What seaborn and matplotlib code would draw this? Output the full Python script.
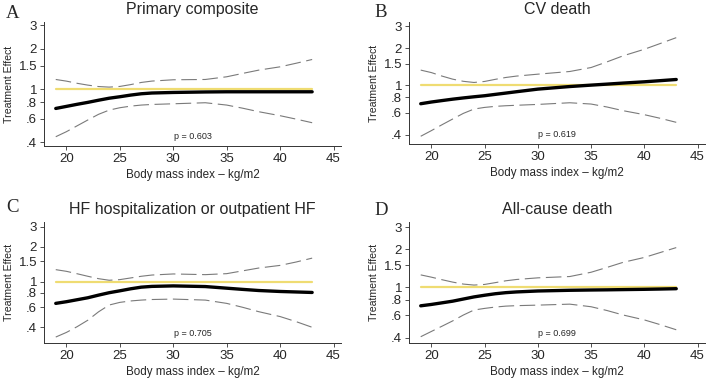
import numpy as np
import pandas as pd
import matplotlib
matplotlib.use("Agg")
import matplotlib.pyplot as plt
import seaborn as sns

bmi = [19, 20, 21, 22, 23, 24, 25, 26, 27, 28, 30, 33, 35, 36.5, 38, 40, 41.5, 43]

titles = ["Primary composite", "CV death",
          "HF hospitalization or outpatient HF", "All-cause death"]
letters = ["A", "B", "C", "D"]
pvals = ["p = 0.603", "p = 0.619", "p = 0.705", "p = 0.699"]

# treatment effect estimates
est_a = [0.717, 0.743, 0.770, 0.796, 0.826, 0.855, 0.877, 0.902, 0.923, 0.935,
         0.944, 0.952, 0.955, 0.955, 0.955, 0.955, 0.955, 0.955]
est_b = [0.712, 0.735, 0.755, 0.775, 0.793, 0.810, 0.826, 0.847, 0.868, 0.890,
         0.934, 0.980, 1.006, 1.025, 1.045, 1.070, 1.093, 1.117]
est_c = [0.646, 0.668, 0.695, 0.723, 0.762, 0.800, 0.831, 0.865, 0.894, 0.908,
         0.917, 0.905, 0.876, 0.855, 0.836, 0.820, 0.812, 0.804]
est_d = [0.714, 0.732, 0.754, 0.777, 0.808, 0.840, 0.866, 0.890, 0.908, 0.920,
         0.936, 0.948, 0.953, 0.956, 0.960, 0.965, 0.970, 0.976]

# upper confidence bound
up_a = [1.180, 1.147, 1.105, 1.071, 1.045, 1.035, 1.047, 1.080, 1.121, 1.148,
        1.174, 1.180, 1.236, 1.310, 1.386, 1.467, 1.560, 1.664]
up_b = [1.330, 1.270, 1.190, 1.124, 1.080, 1.057, 1.077, 1.120, 1.160, 1.190,
        1.233, 1.296, 1.395, 1.550, 1.733, 1.958, 2.180, 2.430]
up_c = [1.270, 1.228, 1.170, 1.112, 1.060, 1.027, 1.040, 1.075, 1.112, 1.140,
        1.165, 1.149, 1.172, 1.240, 1.312, 1.383, 1.480, 1.600]
up_d = [1.256, 1.205, 1.150, 1.101, 1.062, 1.043, 1.055, 1.090, 1.128, 1.155,
        1.190, 1.219, 1.318, 1.440, 1.579, 1.727, 1.890, 2.068]

# lower confidence bound
lo_a = [0.441, 0.481, 0.532, 0.588, 0.648, 0.697, 0.726, 0.746, 0.760, 0.768,
        0.777, 0.791, 0.760, 0.720, 0.678, 0.633, 0.597, 0.561]
lo_b = [0.389, 0.432, 0.482, 0.536, 0.595, 0.645, 0.665, 0.678, 0.686, 0.692,
        0.703, 0.725, 0.708, 0.670, 0.626, 0.581, 0.543, 0.504]
lo_c = [0.329, 0.361, 0.405, 0.461, 0.545, 0.625, 0.659, 0.678, 0.690, 0.698,
        0.704, 0.690, 0.646, 0.597, 0.547, 0.496, 0.448, 0.400]
lo_d = [0.406, 0.447, 0.492, 0.542, 0.603, 0.661, 0.681, 0.698, 0.710, 0.716,
        0.723, 0.736, 0.702, 0.655, 0.604, 0.552, 0.506, 0.461]

ref_x = [19, 43]
ref_y = [1, 1]

ylims = [(0.376, 3.17), (0.337, 3.25), (0.292, 3.3), (0.362, 3.3)]
yticks = [0.4, 0.6, 0.8, 1, 1.5, 2, 3]
ytlabels = [".4", ".6", ".8", "1", "1.5", "2", "3"]
xticks = [20, 25, 30, 35, 40, 45]

ests = [est_a, est_b, est_c, est_d]
ups = [up_a, up_b, up_c, up_d]
los = [lo_a, lo_b, lo_c, lo_d]

sns.set_style("ticks")
plt.rcParams["font.family"] = ["Liberation Sans", "DejaVu Sans"]

W, H = 709, 379
fig = plt.figure(figsize=(W / 100, H / 100), dpi=100)

# pixel boxes (left, top, right, bottom)
boxes = [(44, 22, 341, 146), (409, 22, 705, 144),
         (44, 222, 341, 343), (409, 222, 705, 343)]
letter_pos = [(6, 5), (374, 4), (6, 199), (374, 202)]

for i in range(4):
    l, t, r, b = boxes[i]
    ax = fig.add_axes([l / W, 1 - b / H, (r - l) / W, (b - t) / H])
    sns.lineplot(x=ref_x, y=ref_y, ax=ax, color="#EFDC72", lw=1.6)
    sns.lineplot(x=bmi, y=ups[i], ax=ax, color="#7a7a7a", lw=0.8,
                 linestyle=(0, (14, 5)))
    sns.lineplot(x=bmi, y=los[i], ax=ax, color="#7a7a7a", lw=0.8,
                 linestyle=(0, (14, 5)))
    sns.lineplot(x=bmi, y=ests[i], ax=ax, color="black", lw=2.4)
    ax.set_yscale("log")
    ax.set_ylim(*ylims[i])
    ax.set_xlim(17.9, 45.7)
    ax.set_yticks(yticks)
    ax.set_yticklabels(ytlabels)
    ax.yaxis.set_minor_locator(matplotlib.ticker.NullLocator())
    ax.set_xticks(xticks)
    ax.tick_params(labelsize=9.5, length=3, width=0.6, color="#333333", pad=2)
    for s in ["top", "right"]:
        ax.spines[s].set_visible(False)
    for s in ["left", "bottom"]:
        ax.spines[s].set_linewidth(0.7)
        ax.spines[s].set_color("#333333")
    ax.set_xlabel("Body mass index \u2013 kg/m2", fontsize=8.4, labelpad=3)
    ax.set_ylabel("Treatment Effect", fontsize=7.6, labelpad=3)
    ax.set_title(titles[i], fontsize=11.5, pad=6)
    ax.text(0.5, 0.04, pvals[i], transform=ax.transAxes, ha="center",
            va="bottom", fontsize=6.5)
    lx, ly = letter_pos[i]
    fig.text(lx / W, 1 - ly / H, letters[i], ha="left", va="top",
             fontsize=13.5, family="Liberation Serif")

fig.savefig("out.png", dpi=100, facecolor="white")
